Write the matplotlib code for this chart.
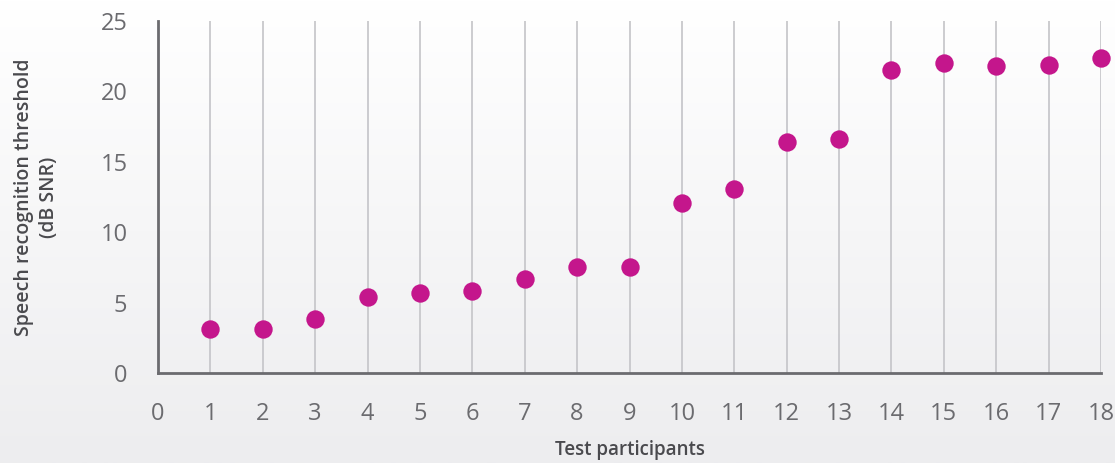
import numpy as np
import matplotlib
matplotlib.use("Agg")
import matplotlib.pyplot as plt
from matplotlib.colors import LinearSegmentedColormap

participants = list(range(1, 19))
thresholds = [3.1, 3.1, 3.8, 5.4, 5.7, 5.8, 6.7, 7.5, 7.5, 12.1, 13.1, 16.4, 16.6, 21.5, 22.0, 21.8, 21.9, 22.4]
x_ticks = list(range(0, 19))
y_ticks = [0, 5, 10, 15, 20, 25]

plt.rcParams['font.family'] = ['Open Sans', 'DejaVu Sans']

fig = plt.figure(figsize=(11.15, 4.63), dpi=100)

# gradient background
bg = fig.add_axes([0, 0, 1, 1], zorder=-10)
cmap = LinearSegmentedColormap.from_list("bg", ["#ffffff", "#ededef"])
grad = np.linspace(0, 1, 256).reshape(-1, 1)
bg.imshow(grad, aspect='auto', cmap=cmap, extent=[0, 1, 0, 1], origin='upper')
bg.axis('off')

W, H = 1115, 463
left, right, top, bottom = 158, 1101, 21, 373
ax = fig.add_axes([left / W, 1 - bottom / H, (right - left) / W, (bottom - top) / H])
ax.patch.set_alpha(0)

ax.scatter(participants, thresholds, s=175, color='#c4168c', zorder=3, linewidths=0, clip_on=False)

ax.set_xlim(0, 18)
ax.set_ylim(0, 25)
ax.set_xticks(x_ticks)
ax.set_yticks(y_ticks)
ax.grid(axis='x', color='#c8c8cc', linewidth=1.3, zorder=1)
ax.grid(axis='y', visible=False)
for s in ['top', 'right']:
    ax.spines[s].set_visible(False)
for s in ['left', 'bottom']:
    ax.spines[s].set_color('#6b6b6f')
    ax.spines[s].set_linewidth(2)
ax.tick_params(axis='both', length=0, labelsize=17, labelcolor='#6b6b6f')
ax.tick_params(axis='x', pad=21)
ax.tick_params(axis='y', pad=22)

ax.set_xlabel('Test participants', fontsize=13.5, color='#4a4a4e', fontweight='semibold', labelpad=10)
ax.set_ylabel('Speech recognition threshold\n(dB SNR)', fontsize=14, color='#4a4a4e',
              fontweight='semibold', labelpad=30, linespacing=1.3)

fig.savefig('out.png', dpi=100)
